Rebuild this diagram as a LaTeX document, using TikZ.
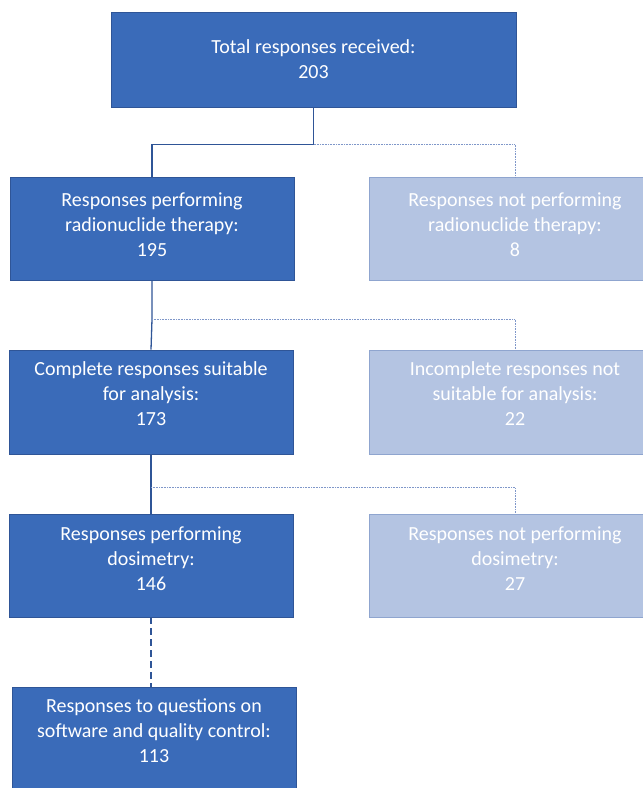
\documentclass[tikz,border=0pt]{standalone}
\usepackage{fontspec}
\setmainfont{Carlito}
\definecolor{fdark}{HTML}{3A6BB9}
\definecolor{bdark}{HTML}{2F5597}
\definecolor{flight}{HTML}{B4C4E2}
\definecolor{blight}{HTML}{8FA5CF}
\definecolor{ldot}{HTML}{7F97C9}
\begin{document}
\begin{tikzpicture}[x=1pt,y=-1pt,
  darkbox/.style={draw=bdark, fill=fdark, line width=0.8pt, inner sep=0pt, minimum height=103pt},
  lightbox/.style={draw=blight, fill=flight, line width=0.8pt, inner sep=0pt, minimum height=103pt},
  boxtext/.style={text=white, align=center, font=\fontsize{20}{25}\selectfont, inner sep=0pt},
  solidline/.style={draw=bdark, line width=1.3pt},
  dotline/.style={draw=ldot, line width=0.7pt, dash pattern=on 0.8pt off 0.8pt},
  dashline/.style={draw=bdark, line width=1.5pt, dash pattern=on 7pt off 4pt}]
\useasboundingbox (0,0) rectangle (643,788);
\clip (0,0) rectangle (643,788);

% boxes
\node[darkbox, minimum width=405pt, minimum height=95pt] (top) at (313.5,59.5) {};
\node[darkbox, minimum width=284pt] (l1) at (152,228.5) {};
\node[lightbox, minimum width=292pt] (r1) at (515,228.5) {};
\node[darkbox, minimum width=284pt, minimum height=104pt] (l2) at (151,402) {};
\node[lightbox, minimum width=292pt, minimum height=104pt] (r2) at (515,402) {};
\node[darkbox, minimum width=284pt] (l3) at (151,565.5) {};
\node[lightbox, minimum width=292pt] (r3) at (515,565.5) {};
\node[darkbox, minimum width=284pt, minimum height=104pt] (l4) at (154,739) {};

% texts
\node[boxtext] (ttop) at (top.center) {Total responses received:\\203};
\node[boxtext] (tl1) at ([yshift=4pt]l1.center) {Responses performing\\radionuclide therapy:\\195};
\node[boxtext] (tr1) at ([yshift=4pt]r1.center) {Responses not performing\\radionuclide therapy:\\8};
\node[boxtext] (tl2) at ([yshift=8pt]l2.center) {Complete responses suitable\\for analysis:\\173};
\node[boxtext] (tr2) at ([yshift=8pt]r2.center) {Incomplete responses not\\suitable for analysis:\\22};
\node[boxtext] (tl3) at ([yshift=7pt]l3.center) {Responses performing\\dosimetry:\\146};
\node[boxtext] (tr3) at ([yshift=7pt]r3.center) {Responses not performing\\dosimetry:\\27};
\node[boxtext] (tl4) at ([yshift=8pt]l4.center) {Responses to questions on\\software and quality control:\\113};

% connectors
\coordinate (j1) at ([yshift=-37pt]top.south);
\draw[solidline] (top.south) -- (j1) -| (l1.north);
\draw[dotline] (j1) -| (r1.north);

\coordinate (j2) at ([yshift=-39pt]l1.south);
\draw[solidline] (l1.south) -- (j2) -- (l2.north);
\draw[dotline] (j2) -| (r2.north);

\coordinate (j3) at ([yshift=-33pt]l2.south);
\draw[solidline] (l2.south) -- (j3) -- (l3.north);
\draw[dotline] (j3) -| (r3.north);

\draw[dashline] (l3.south) -- (l3.south |- l4.north);
\end{tikzpicture}
\end{document}
